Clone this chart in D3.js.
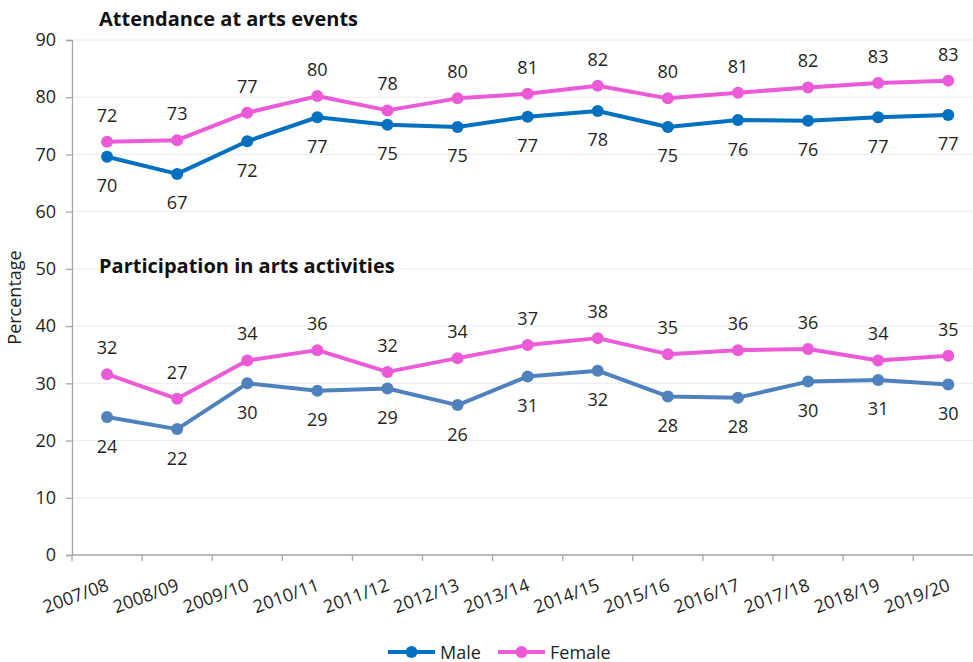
<!DOCTYPE html>
<html>
<head>
<meta charset="utf-8">
<script src="https://cdn.jsdelivr.net/npm/d3@7"></script>
<style>
  html, body { margin: 0; padding: 0; background: #fff; }
  svg { display: block; font-family: "Open Sans", "Noto Sans", sans-serif; }
</style>
</head>
<body>
<svg id="chart" width="973" height="662"></svg>
<script>
// Survey years
const years = ["2007/08","2008/09","2009/10","2010/11","2011/12","2012/13","2013/14",
               "2014/15","2015/16","2016/17","2017/18","2018/19","2019/20"];

// Attendance at arts events (%)
const attendanceMale   = [69.6, 66.6, 72.3, 76.5, 75.2, 74.8, 76.6, 77.6, 74.8, 76.0, 75.9, 76.5, 76.9];
const attendanceFemale = [72.2, 72.5, 77.3, 80.2, 77.7, 79.8, 80.6, 82.0, 79.8, 80.8, 81.7, 82.5, 82.9];

// Participation in arts activities (%)
const participationMale   = [24.1, 22.0, 30.0, 28.7, 29.1, 26.2, 31.2, 32.2, 27.7, 27.5, 30.3, 30.6, 29.8];
const participationFemale = [31.6, 27.3, 34.0, 35.8, 32.0, 34.4, 36.7, 37.9, 35.1, 35.8, 36.0, 34.0, 34.8];

const yTicks = [0, 10, 20, 30, 40, 50, 60, 70, 80, 90];
const groupTitles = ["Attendance at arts events", "Participation in arts activities"];
const legendNames = ["Male", "Female"];

const svg = d3.select("#chart");
const plotLeft = 72, plotTop = 40, plotBottom = 555;
const band = 70.1;

const x = d3.scaleBand().domain(years).range([plotLeft, plotLeft + band * years.length]).padding(0);
const y = d3.scaleLinear().domain([0, 90]).range([plotBottom, plotTop]);
const cx = d => x(d) + x.bandwidth() / 2;

const textColor = "#1f1f1f";
const fontSize = 18;

// gridlines
svg.append("g")
  .selectAll("line")
  .data(yTicks.filter(t => t > 0))
  .join("line")
  .attr("x1", plotLeft).attr("x2", 973)
  .attr("y1", d => y(d)).attr("y2", d => y(d))
  .attr("stroke", "#ececec").attr("stroke-width", 1);

// y axis
const yAxis = svg.append("g")
  .attr("transform", `translate(${plotLeft},0)`)
  .call(d3.axisLeft(y).tickValues(yTicks).tickSize(6).tickPadding(10));
yAxis.select(".domain").attr("stroke", "#a6a6a6").attr("stroke-width", 1.3);
yAxis.selectAll(".tick line").attr("stroke", "#a6a6a6").attr("stroke-width", 1.3);
yAxis.selectAll(".tick text")
  .attr("font-size", fontSize).attr("fill", textColor)
  .attr("font-family", "Open Sans, sans-serif");

// x axis: ticks at category boundaries
const xAxisG = svg.append("g").attr("transform", `translate(0,${plotBottom})`);
xAxisG.append("line")
  .attr("x1", plotLeft).attr("x2", plotLeft + band * years.length)
  .attr("stroke", "#a6a6a6").attr("stroke-width", 1.3);
xAxisG.selectAll("line.tick")
  .data(years)
  .join("line")
  .attr("class", "tick")
  .attr("x1", d => x(d)).attr("x2", d => x(d))
  .attr("y1", 0).attr("y2", 6)
  .attr("stroke", "#a6a6a6").attr("stroke-width", 1.3);
xAxisG.selectAll("text")
  .data(years)
  .join("text")
  .attr("text-anchor", "end")
  .attr("transform", d => `translate(${cx(d) + 3},35) rotate(-20)`)
  .attr("font-size", fontSize)
  .attr("fill", textColor)
  .text(d => d);

// y axis title
svg.append("text")
  .attr("transform", `translate(21,${(plotTop + plotBottom) / 2}) rotate(-90)`)
  .attr("text-anchor", "middle")
  .attr("font-size", fontSize)
  .attr("fill", textColor)
  .text("Percentage");

// group titles
const titleY = [26, 273];
groupTitles.forEach((t, i) => {
  svg.append("text")
    .attr("x", 99).attr("y", titleY[i])
    .attr("font-size", 20).attr("font-weight", "bold")
    .attr("fill", "#111")
    .text(t);
});

const pink = "#EB5BD8";
const series = [
  { values: attendanceMale,      color: "#0070C0", labelBelow: true },
  { values: attendanceFemale,    color: pink,      labelBelow: false },
  { values: participationMale,   color: "#4F81BD", labelBelow: true },
  { values: participationFemale, color: pink,      labelBelow: false }
];

const line = d3.line().x(d => cx(d.year)).y(d => y(d.value));

series.forEach(s => {
  const pts = years.map((yr, i) => ({ year: yr, value: s.values[i] }));
  const g = svg.append("g");
  g.append("path")
    .datum(pts)
    .attr("d", line)
    .attr("fill", "none")
    .attr("stroke", s.color)
    .attr("stroke-width", 4)
    .attr("stroke-linejoin", "round");
  g.selectAll("circle")
    .data(pts)
    .join("circle")
    .attr("cx", d => cx(d.year))
    .attr("cy", d => y(d.value))
    .attr("r", 6)
    .attr("fill", s.color);
  g.selectAll("text")
    .data(pts)
    .join("text")
    .attr("x", d => cx(d.year))
    .attr("y", d => y(d.value) + (s.labelBelow ? 35.5 : -20))
    .attr("text-anchor", "middle")
    .attr("font-size", fontSize)
    .attr("fill", textColor)
    .text(d => Math.round(d.value));
});

// legend
const legend = [
  { name: legendNames[0], color: "#0070C0", x0: 388 },
  { name: legendNames[1], color: pink,      x0: 498 }
];
legend.forEach(l => {
  const g = svg.append("g").attr("transform", `translate(${l.x0},652)`);
  g.append("line").attr("x1", 0).attr("x2", 47).attr("y1", 0).attr("y2", 0)
    .attr("stroke", l.color).attr("stroke-width", 4);
  g.append("circle").attr("cx", 23.5).attr("cy", 0).attr("r", 6).attr("fill", l.color);
  g.append("text").attr("x", 52).attr("y", 6.5)
    .attr("font-size", fontSize).attr("fill", textColor).text(l.name);
});
</script>
</body>
</html>
